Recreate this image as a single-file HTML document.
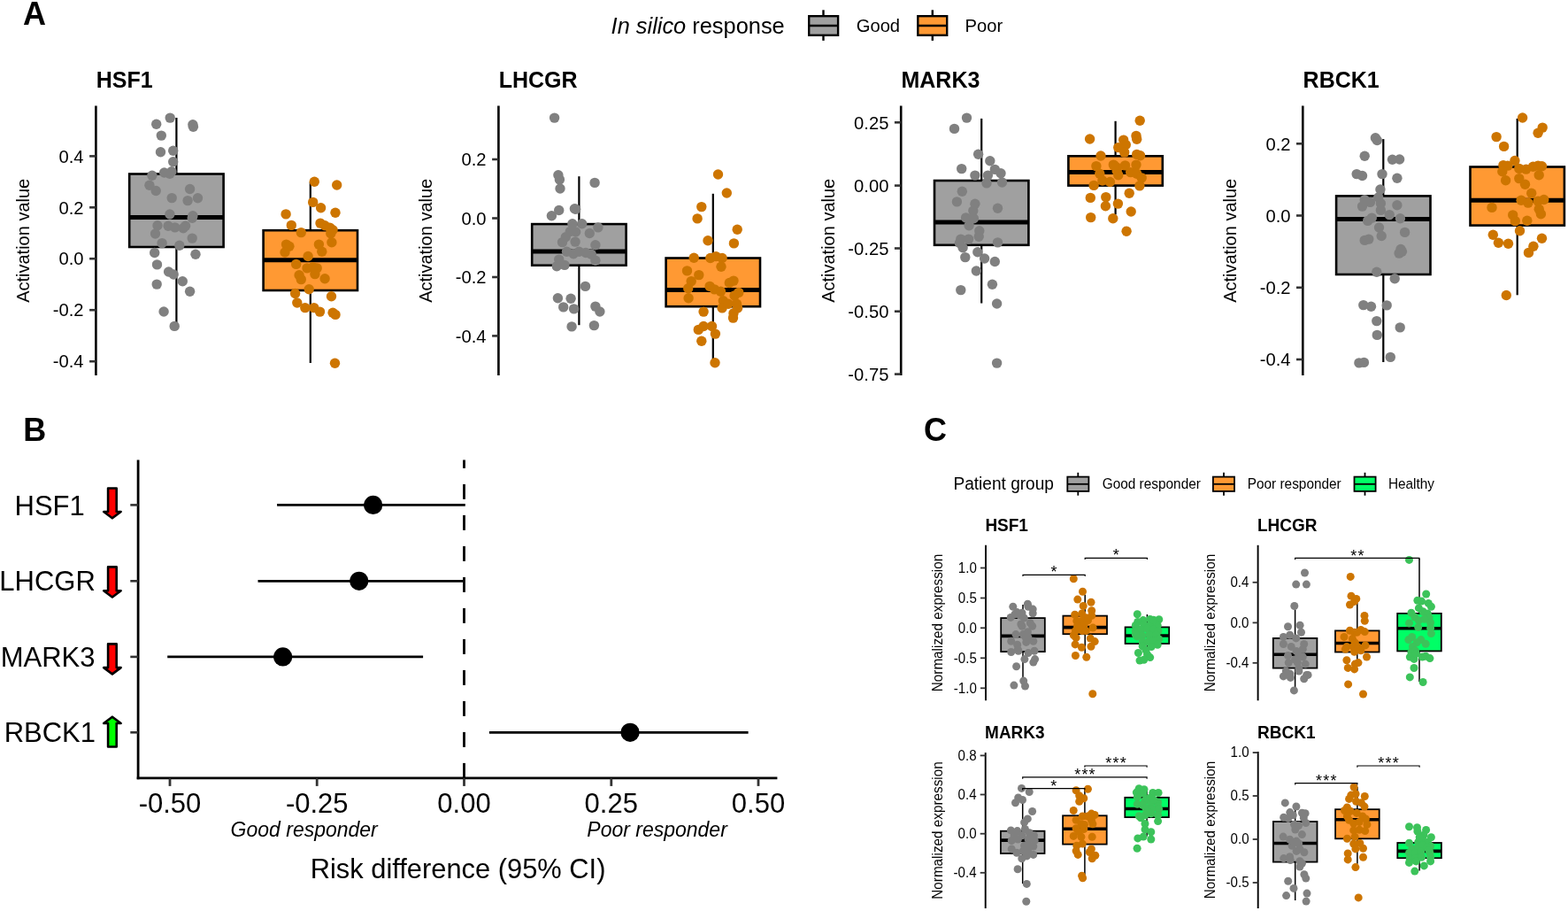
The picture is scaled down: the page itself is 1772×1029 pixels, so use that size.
<!DOCTYPE html>
<html><head><meta charset="utf-8"><title>Figure</title>
<style>html,body{margin:0;padding:0;background:#fff;} svg{display:block;} text{font-family:'Liberation Sans', Arial, Helvetica, sans-serif;}</style>
</head><body>
<svg width="1772" height="1029" viewBox="0 0 1772 1029">
<rect width="1772" height="1029" fill="#fff"/>
<text transform="translate(25.90,28.40) scale(1,1.041)" font-size="36" text-anchor="start" font-weight="bold" font-style="normal" fill="#000" >A</text>
<text transform="translate(690.6,37.9) scale(1,1.041)" font-size="25.4"><tspan font-style="italic">In silico</tspan> response</text>
<line x1="930.5" y1="11.3" x2="930.5" y2="45.9" stroke="#000" stroke-width="2.4" />
<rect x="914.2" y="18.2" width="32.89999999999998" height="21.599999999999998" fill="#A0A0A0" stroke="#000" stroke-width="2.4"/>
<line x1="914.2" y1="29.0" x2="947.1" y2="29.0" stroke="#000" stroke-width="2.6" />
<line x1="1053.8" y1="11.3" x2="1053.8" y2="45.9" stroke="#000" stroke-width="2.4" />
<rect x="1037.3" y="18.2" width="32.90000000000009" height="21.599999999999998" fill="#FF9933" stroke="#000" stroke-width="2.4"/>
<line x1="1037.3" y1="29.0" x2="1070.2" y2="29.0" stroke="#000" stroke-width="2.6" />
<text transform="translate(967.70,35.75) scale(1,1.041)" font-size="20.2" text-anchor="start" font-weight="normal" font-style="normal" fill="#000" >Good</text>
<text transform="translate(1090.50,35.75) scale(1,1.041)" font-size="20.2" text-anchor="start" font-weight="normal" font-style="normal" fill="#000" >Poor</text>
<text transform="translate(108.70,98.80) scale(1,1.041)" font-size="25" text-anchor="start" font-weight="bold" font-style="normal" fill="#000" >HSF1</text>
<line x1="108.4" y1="119.5" x2="108.4" y2="424.0" stroke="#000" stroke-width="2.6" />
<line x1="101.1" y1="176.4" x2="108.4" y2="176.4" stroke="#333" stroke-width="2.6" />
<text transform="translate(94.60,183.60) scale(1,1.041)" font-size="20.2" text-anchor="end" font-weight="normal" font-style="normal" fill="#000" >0.4</text>
<line x1="101.1" y1="234.3" x2="108.4" y2="234.3" stroke="#333" stroke-width="2.6" />
<text transform="translate(94.60,241.50) scale(1,1.041)" font-size="20.2" text-anchor="end" font-weight="normal" font-style="normal" fill="#000" >0.2</text>
<line x1="101.1" y1="292.2" x2="108.4" y2="292.2" stroke="#333" stroke-width="2.6" />
<text transform="translate(94.60,299.40) scale(1,1.041)" font-size="20.2" text-anchor="end" font-weight="normal" font-style="normal" fill="#000" >0.0</text>
<line x1="101.1" y1="350.2" x2="108.4" y2="350.2" stroke="#333" stroke-width="2.6" />
<text transform="translate(94.60,357.40) scale(1,1.041)" font-size="20.2" text-anchor="end" font-weight="normal" font-style="normal" fill="#000" >-0.2</text>
<line x1="101.1" y1="408.2" x2="108.4" y2="408.2" stroke="#333" stroke-width="2.6" />
<text transform="translate(94.60,415.40) scale(1,1.041)" font-size="20.2" text-anchor="end" font-weight="normal" font-style="normal" fill="#000" >-0.4</text>
<text transform="translate(33.2,271.8) rotate(-90) scale(1,1.041)" font-size="20" text-anchor="middle">Activation value</text>
<line x1="199.4" y1="133.0" x2="199.4" y2="196.5" stroke="#000" stroke-width="2.2" />
<line x1="199.4" y1="279.0" x2="199.4" y2="364.3" stroke="#000" stroke-width="2.2" />
<rect x="146.2" y="196.5" width="106.4" height="82.5" fill="#A0A0A0" stroke="#000" stroke-width="2.6"/>
<line x1="146.2" y1="245.4" x2="252.6" y2="245.4" stroke="#000" stroke-width="5.0" stroke-linecap="butt"/>
<line x1="350.8" y1="205.7" x2="350.8" y2="260.2" stroke="#000" stroke-width="2.2" />
<line x1="350.8" y1="328.0" x2="350.8" y2="410.0" stroke="#000" stroke-width="2.2" />
<rect x="297.6" y="260.2" width="106.4" height="67.8" fill="#FF9933" stroke="#000" stroke-width="2.6"/>
<line x1="297.6" y1="293.8" x2="404.0" y2="293.8" stroke="#000" stroke-width="5.0" stroke-linecap="butt"/>
<g fill="#808080"><circle cx="192.2" cy="133.1" r="5.7"/><circle cx="176.7" cy="140.2" r="5.7"/><circle cx="217.9" cy="140.7" r="5.7"/><circle cx="218.4" cy="143.2" r="5.7"/><circle cx="182.3" cy="153.1" r="5.7"/><circle cx="181.5" cy="171.8" r="5.7"/><circle cx="195.7" cy="170.3" r="5.7"/><circle cx="195.7" cy="182.7" r="5.7"/><circle cx="171.9" cy="198.3" r="5.7"/><circle cx="185.6" cy="195.0" r="5.7"/><circle cx="191.9" cy="196.3" r="5.7"/><circle cx="193.9" cy="193.8" r="5.7"/><circle cx="168.9" cy="209.2" r="5.7"/><circle cx="176.2" cy="215.5" r="5.7"/><circle cx="214.6" cy="213.5" r="5.7"/><circle cx="194.2" cy="223.6" r="5.7"/><circle cx="212.1" cy="226.6" r="5.7"/><circle cx="223.5" cy="223.8" r="5.7"/><circle cx="191.9" cy="242.0" r="5.7"/><circle cx="217.9" cy="243.8" r="5.7"/><circle cx="217.2" cy="246.3" r="5.7"/><circle cx="178.0" cy="254.7" r="5.7"/><circle cx="190.1" cy="255.2" r="5.7"/><circle cx="197.7" cy="256.9" r="5.7"/><circle cx="207.1" cy="257.7" r="5.7"/><circle cx="209.6" cy="255.2" r="5.7"/><circle cx="175.5" cy="264.0" r="5.7"/><circle cx="183.1" cy="274.6" r="5.7"/><circle cx="202.8" cy="277.2" r="5.7"/><circle cx="217.2" cy="269.1" r="5.7"/><circle cx="174.7" cy="285.5" r="5.7"/><circle cx="221.0" cy="287.3" r="5.7"/><circle cx="177.5" cy="298.9" r="5.7"/><circle cx="190.6" cy="307.0" r="5.7"/><circle cx="196.2" cy="310.0" r="5.7"/><circle cx="206.3" cy="317.8" r="5.7"/><circle cx="177.2" cy="321.1" r="5.7"/><circle cx="214.6" cy="329.2" r="5.7"/><circle cx="185.1" cy="352.0" r="5.7"/><circle cx="197.2" cy="368.4" r="5.7"/></g>
<g fill="#CD7500"><circle cx="355.3" cy="205.2" r="5.7"/><circle cx="380.7" cy="209.0" r="5.7"/><circle cx="353.7" cy="228.4" r="5.7"/><circle cx="362.6" cy="234.7" r="5.7"/><circle cx="323.1" cy="241.9" r="5.7"/><circle cx="379.0" cy="240.3" r="5.7"/><circle cx="329.3" cy="254.4" r="5.7"/><circle cx="362.0" cy="252.1" r="5.7"/><circle cx="367.1" cy="254.8" r="5.7"/><circle cx="372.7" cy="257.1" r="5.7"/><circle cx="376.1" cy="259.7" r="5.7"/><circle cx="373.8" cy="263.8" r="5.7"/><circle cx="340.3" cy="262.6" r="5.7"/><circle cx="374.9" cy="273.8" r="5.7"/><circle cx="323.5" cy="276.1" r="5.7"/><circle cx="326.9" cy="278.3" r="5.7"/><circle cx="322.0" cy="285.0" r="5.7"/><circle cx="360.4" cy="276.1" r="5.7"/><circle cx="363.8" cy="284.3" r="5.7"/><circle cx="348.1" cy="289.5" r="5.7"/><circle cx="334.7" cy="298.4" r="5.7"/><circle cx="347.0" cy="302.9" r="5.7"/><circle cx="353.7" cy="301.8" r="5.7"/><circle cx="358.2" cy="302.9" r="5.7"/><circle cx="355.9" cy="309.6" r="5.7"/><circle cx="338.1" cy="310.7" r="5.7"/><circle cx="340.3" cy="315.6" r="5.7"/><circle cx="367.1" cy="314.7" r="5.7"/><circle cx="349.2" cy="326.8" r="5.7"/><circle cx="333.6" cy="331.5" r="5.7"/><circle cx="374.5" cy="334.8" r="5.7"/><circle cx="335.8" cy="342.0" r="5.7"/><circle cx="344.8" cy="347.6" r="5.7"/><circle cx="354.8" cy="347.6" r="5.7"/><circle cx="361.5" cy="352.1" r="5.7"/><circle cx="376.1" cy="353.2" r="5.7"/><circle cx="379.0" cy="355.4" r="5.7"/><circle cx="378.5" cy="410.2" r="5.7"/></g>
<text transform="translate(563.70,98.80) scale(1,1.041)" font-size="25" text-anchor="start" font-weight="bold" font-style="normal" fill="#000" >LHCGR</text>
<line x1="563.4" y1="119.5" x2="563.4" y2="424.0" stroke="#000" stroke-width="2.6" />
<line x1="556.1" y1="180.0" x2="563.4" y2="180.0" stroke="#333" stroke-width="2.6" />
<text transform="translate(549.60,187.20) scale(1,1.041)" font-size="20.2" text-anchor="end" font-weight="normal" font-style="normal" fill="#000" >0.2</text>
<line x1="556.1" y1="246.5" x2="563.4" y2="246.5" stroke="#333" stroke-width="2.6" />
<text transform="translate(549.60,253.70) scale(1,1.041)" font-size="20.2" text-anchor="end" font-weight="normal" font-style="normal" fill="#000" >0.0</text>
<line x1="556.1" y1="313.0" x2="563.4" y2="313.0" stroke="#333" stroke-width="2.6" />
<text transform="translate(549.60,320.20) scale(1,1.041)" font-size="20.2" text-anchor="end" font-weight="normal" font-style="normal" fill="#000" >-0.2</text>
<line x1="556.1" y1="379.4" x2="563.4" y2="379.4" stroke="#333" stroke-width="2.6" />
<text transform="translate(549.60,386.60) scale(1,1.041)" font-size="20.2" text-anchor="end" font-weight="normal" font-style="normal" fill="#000" >-0.4</text>
<text transform="translate(488.2,271.8) rotate(-90) scale(1,1.041)" font-size="20" text-anchor="middle">Activation value</text>
<line x1="654.4" y1="199.2" x2="654.4" y2="253.1" stroke="#000" stroke-width="2.2" />
<line x1="654.4" y1="299.7" x2="654.4" y2="367.2" stroke="#000" stroke-width="2.2" />
<rect x="601.2" y="253.1" width="106.4" height="46.6" fill="#A0A0A0" stroke="#000" stroke-width="2.6"/>
<line x1="601.2" y1="284.1" x2="707.6" y2="284.1" stroke="#000" stroke-width="5.0" stroke-linecap="butt"/>
<line x1="805.8" y1="218.8" x2="805.8" y2="291.5" stroke="#000" stroke-width="2.2" />
<line x1="805.8" y1="346.2" x2="805.8" y2="410.8" stroke="#000" stroke-width="2.2" />
<rect x="752.6" y="291.5" width="106.4" height="54.7" fill="#FF9933" stroke="#000" stroke-width="2.6"/>
<line x1="752.6" y1="327.4" x2="859.0" y2="327.4" stroke="#000" stroke-width="5.0" stroke-linecap="butt"/>
<g fill="#808080"><circle cx="626.6" cy="133.1" r="5.7"/><circle cx="630.9" cy="197.8" r="5.7"/><circle cx="632.4" cy="202.9" r="5.7"/><circle cx="633.0" cy="213.0" r="5.7"/><circle cx="672.1" cy="206.4" r="5.7"/><circle cx="631.7" cy="237.5" r="5.7"/><circle cx="623.4" cy="243.8" r="5.7"/><circle cx="649.4" cy="235.7" r="5.7"/><circle cx="650.6" cy="236.2" r="5.7"/><circle cx="646.9" cy="252.7" r="5.7"/><circle cx="657.7" cy="252.7" r="5.7"/><circle cx="675.9" cy="256.9" r="5.7"/><circle cx="666.3" cy="263.5" r="5.7"/><circle cx="644.3" cy="261.5" r="5.7"/><circle cx="650.6" cy="262.0" r="5.7"/><circle cx="639.3" cy="267.8" r="5.7"/><circle cx="635.5" cy="273.6" r="5.7"/><circle cx="650.1" cy="273.1" r="5.7"/><circle cx="672.9" cy="276.7" r="5.7"/><circle cx="640.5" cy="284.2" r="5.7"/><circle cx="648.1" cy="286.8" r="5.7"/><circle cx="654.4" cy="284.2" r="5.7"/><circle cx="662.0" cy="285.5" r="5.7"/><circle cx="668.3" cy="287.3" r="5.7"/><circle cx="672.9" cy="294.3" r="5.7"/><circle cx="631.7" cy="293.1" r="5.7"/><circle cx="629.2" cy="300.7" r="5.7"/><circle cx="638.0" cy="299.4" r="5.7"/><circle cx="661.5" cy="323.4" r="5.7"/><circle cx="630.4" cy="336.8" r="5.7"/><circle cx="645.1" cy="337.3" r="5.7"/><circle cx="636.7" cy="346.9" r="5.7"/><circle cx="648.6" cy="348.9" r="5.7"/><circle cx="672.9" cy="346.1" r="5.7"/><circle cx="677.9" cy="352.0" r="5.7"/><circle cx="646.1" cy="368.9" r="5.7"/><circle cx="671.4" cy="367.6" r="5.7"/></g>
<g fill="#CD7500"><circle cx="811.5" cy="197.0" r="5.7"/><circle cx="821.3" cy="218.0" r="5.7"/><circle cx="792.8" cy="233.6" r="5.7"/><circle cx="788.1" cy="246.9" r="5.7"/><circle cx="833.2" cy="259.3" r="5.7"/><circle cx="800.0" cy="271.7" r="5.7"/><circle cx="829.4" cy="274.9" r="5.7"/><circle cx="784.2" cy="291.3" r="5.7"/><circle cx="802.8" cy="291.5" r="5.7"/><circle cx="809.1" cy="289.6" r="5.7"/><circle cx="816.1" cy="291.5" r="5.7"/><circle cx="815.0" cy="301.3" r="5.7"/><circle cx="776.5" cy="305.9" r="5.7"/><circle cx="789.8" cy="310.6" r="5.7"/><circle cx="781.2" cy="317.6" r="5.7"/><circle cx="777.7" cy="325.8" r="5.7"/><circle cx="778.1" cy="336.7" r="5.7"/><circle cx="802.1" cy="323.4" r="5.7"/><circle cx="807.5" cy="326.9" r="5.7"/><circle cx="814.5" cy="329.3" r="5.7"/><circle cx="824.3" cy="319.5" r="5.7"/><circle cx="829.0" cy="317.1" r="5.7"/><circle cx="834.8" cy="330.4" r="5.7"/><circle cx="830.1" cy="333.9" r="5.7"/><circle cx="817.3" cy="339.8" r="5.7"/><circle cx="816.1" cy="347.9" r="5.7"/><circle cx="823.1" cy="343.3" r="5.7"/><circle cx="832.5" cy="343.3" r="5.7"/><circle cx="833.6" cy="347.9" r="5.7"/><circle cx="829.0" cy="353.8" r="5.7"/><circle cx="828.5" cy="359.1" r="5.7"/><circle cx="795.1" cy="352.1" r="5.7"/><circle cx="789.3" cy="372.4" r="5.7"/><circle cx="795.1" cy="368.5" r="5.7"/><circle cx="804.5" cy="368.5" r="5.7"/><circle cx="808.4" cy="377.1" r="5.7"/><circle cx="792.8" cy="385.2" r="5.7"/><circle cx="808.0" cy="409.7" r="5.7"/></g>
<text transform="translate(1018.50,98.80) scale(1,1.041)" font-size="25" text-anchor="start" font-weight="bold" font-style="normal" fill="#000" >MARK3</text>
<line x1="1018.2" y1="119.5" x2="1018.2" y2="424.0" stroke="#000" stroke-width="2.6" />
<line x1="1010.9" y1="138.3" x2="1018.2" y2="138.3" stroke="#333" stroke-width="2.6" />
<text transform="translate(1004.40,145.50) scale(1,1.041)" font-size="20.2" text-anchor="end" font-weight="normal" font-style="normal" fill="#000" >0.25</text>
<line x1="1010.9" y1="209.6" x2="1018.2" y2="209.6" stroke="#333" stroke-width="2.6" />
<text transform="translate(1004.40,216.80) scale(1,1.041)" font-size="20.2" text-anchor="end" font-weight="normal" font-style="normal" fill="#000" >0.00</text>
<line x1="1010.9" y1="280.5" x2="1018.2" y2="280.5" stroke="#333" stroke-width="2.6" />
<text transform="translate(1004.40,287.70) scale(1,1.041)" font-size="20.2" text-anchor="end" font-weight="normal" font-style="normal" fill="#000" >-0.25</text>
<line x1="1010.9" y1="351.7" x2="1018.2" y2="351.7" stroke="#333" stroke-width="2.6" />
<text transform="translate(1004.40,358.90) scale(1,1.041)" font-size="20.2" text-anchor="end" font-weight="normal" font-style="normal" fill="#000" >-0.50</text>
<line x1="1010.9" y1="422.6" x2="1018.2" y2="422.6" stroke="#333" stroke-width="2.6" />
<text transform="translate(1004.40,429.80) scale(1,1.041)" font-size="20.2" text-anchor="end" font-weight="normal" font-style="normal" fill="#000" >-0.75</text>
<text transform="translate(943.0,271.8) rotate(-90) scale(1,1.041)" font-size="20" text-anchor="middle">Activation value</text>
<line x1="1109.2" y1="133.9" x2="1109.2" y2="204.0" stroke="#000" stroke-width="2.2" />
<line x1="1109.2" y1="276.8" x2="1109.2" y2="342.5" stroke="#000" stroke-width="2.2" />
<rect x="1056.0" y="204.0" width="106.4" height="72.8" fill="#A0A0A0" stroke="#000" stroke-width="2.6"/>
<line x1="1056.0" y1="250.9" x2="1162.4" y2="250.9" stroke="#000" stroke-width="5.0" stroke-linecap="butt"/>
<line x1="1260.6" y1="136.8" x2="1260.6" y2="176.3" stroke="#000" stroke-width="2.2" />
<line x1="1260.6" y1="209.6" x2="1260.6" y2="242.4" stroke="#000" stroke-width="2.2" />
<rect x="1207.4" y="176.3" width="106.4" height="33.3" fill="#FF9933" stroke="#000" stroke-width="2.6"/>
<line x1="1207.4" y1="194.4" x2="1313.8" y2="194.4" stroke="#000" stroke-width="5.0" stroke-linecap="butt"/>
<g fill="#808080"><circle cx="1092.5" cy="133.1" r="5.7"/><circle cx="1078.5" cy="145.4" r="5.7"/><circle cx="1105.6" cy="174.2" r="5.7"/><circle cx="1118.8" cy="181.8" r="5.7"/><circle cx="1086.7" cy="190.6" r="5.7"/><circle cx="1101.9" cy="198.1" r="5.7"/><circle cx="1116.4" cy="198.1" r="5.7"/><circle cx="1124.3" cy="191.4" r="5.7"/><circle cx="1131.0" cy="195.8" r="5.7"/><circle cx="1115.0" cy="206.9" r="5.7"/><circle cx="1132.5" cy="206.0" r="5.7"/><circle cx="1087.3" cy="216.2" r="5.7"/><circle cx="1081.4" cy="227.9" r="5.7"/><circle cx="1101.9" cy="230.2" r="5.7"/><circle cx="1127.5" cy="235.2" r="5.7"/><circle cx="1099.8" cy="238.1" r="5.7"/><circle cx="1091.6" cy="245.9" r="5.7"/><circle cx="1100.4" cy="246.8" r="5.7"/><circle cx="1095.1" cy="254.7" r="5.7"/><circle cx="1106.8" cy="260.8" r="5.7"/><circle cx="1106.2" cy="267.2" r="5.7"/><circle cx="1085.8" cy="270.1" r="5.7"/><circle cx="1094.6" cy="270.1" r="5.7"/><circle cx="1084.4" cy="274.5" r="5.7"/><circle cx="1088.1" cy="279.8" r="5.7"/><circle cx="1127.5" cy="273.9" r="5.7"/><circle cx="1090.8" cy="290.6" r="5.7"/><circle cx="1104.8" cy="284.7" r="5.7"/><circle cx="1112.6" cy="292.0" r="5.7"/><circle cx="1124.3" cy="295.5" r="5.7"/><circle cx="1103.3" cy="306.0" r="5.7"/><circle cx="1121.4" cy="321.2" r="5.7"/><circle cx="1085.8" cy="327.6" r="5.7"/><circle cx="1126.6" cy="343.0" r="5.7"/><circle cx="1126.6" cy="410.1" r="5.7"/></g>
<g fill="#CD7500"><circle cx="1288.2" cy="136.3" r="5.7"/><circle cx="1231.6" cy="157.0" r="5.7"/><circle cx="1284.0" cy="153.4" r="5.7"/><circle cx="1284.7" cy="157.3" r="5.7"/><circle cx="1269.7" cy="158.1" r="5.7"/><circle cx="1272.3" cy="163.5" r="5.7"/><circle cx="1263.8" cy="166.6" r="5.7"/><circle cx="1270.7" cy="172.1" r="5.7"/><circle cx="1244.0" cy="176.0" r="5.7"/><circle cx="1284.7" cy="174.4" r="5.7"/><circle cx="1288.6" cy="175.7" r="5.7"/><circle cx="1238.9" cy="187.6" r="5.7"/><circle cx="1258.3" cy="186.1" r="5.7"/><circle cx="1271.5" cy="186.9" r="5.7"/><circle cx="1284.0" cy="186.1" r="5.7"/><circle cx="1242.8" cy="196.2" r="5.7"/><circle cx="1262.2" cy="193.1" r="5.7"/><circle cx="1263.8" cy="197.7" r="5.7"/><circle cx="1277.7" cy="194.6" r="5.7"/><circle cx="1284.7" cy="196.2" r="5.7"/><circle cx="1290.2" cy="200.9" r="5.7"/><circle cx="1245.9" cy="204.0" r="5.7"/><circle cx="1254.4" cy="205.5" r="5.7"/><circle cx="1236.1" cy="209.4" r="5.7"/><circle cx="1287.9" cy="209.9" r="5.7"/><circle cx="1276.2" cy="218.3" r="5.7"/><circle cx="1232.3" cy="223.4" r="5.7"/><circle cx="1249.8" cy="222.6" r="5.7"/><circle cx="1249.4" cy="232.7" r="5.7"/><circle cx="1263.4" cy="230.1" r="5.7"/><circle cx="1278.2" cy="239.0" r="5.7"/><circle cx="1232.7" cy="245.6" r="5.7"/><circle cx="1257.8" cy="246.7" r="5.7"/><circle cx="1273.1" cy="261.2" r="5.7"/><circle cx="1262.2" cy="189.2" r="5.7"/><circle cx="1259.1" cy="186.9" r="5.7"/></g>
<text transform="translate(1472.60,98.80) scale(1,1.041)" font-size="25" text-anchor="start" font-weight="bold" font-style="normal" fill="#000" >RBCK1</text>
<line x1="1472.3" y1="119.5" x2="1472.3" y2="424.0" stroke="#000" stroke-width="2.6" />
<line x1="1465.0" y1="162.3" x2="1472.3" y2="162.3" stroke="#333" stroke-width="2.6" />
<text transform="translate(1458.50,169.50) scale(1,1.041)" font-size="20.2" text-anchor="end" font-weight="normal" font-style="normal" fill="#000" >0.2</text>
<line x1="1465.0" y1="243.5" x2="1472.3" y2="243.5" stroke="#333" stroke-width="2.6" />
<text transform="translate(1458.50,250.70) scale(1,1.041)" font-size="20.2" text-anchor="end" font-weight="normal" font-style="normal" fill="#000" >0.0</text>
<line x1="1465.0" y1="324.8" x2="1472.3" y2="324.8" stroke="#333" stroke-width="2.6" />
<text transform="translate(1458.50,332.00) scale(1,1.041)" font-size="20.2" text-anchor="end" font-weight="normal" font-style="normal" fill="#000" >-0.2</text>
<line x1="1465.0" y1="406.0" x2="1472.3" y2="406.0" stroke="#333" stroke-width="2.6" />
<text transform="translate(1458.50,413.20) scale(1,1.041)" font-size="20.2" text-anchor="end" font-weight="normal" font-style="normal" fill="#000" >-0.4</text>
<text transform="translate(1397.1,271.8) rotate(-90) scale(1,1.041)" font-size="20" text-anchor="middle">Activation value</text>
<line x1="1563.3" y1="157.1" x2="1563.3" y2="221.4" stroke="#000" stroke-width="2.2" />
<line x1="1563.3" y1="310.0" x2="1563.3" y2="409.0" stroke="#000" stroke-width="2.2" />
<rect x="1510.1" y="221.4" width="106.4" height="88.6" fill="#A0A0A0" stroke="#000" stroke-width="2.6"/>
<line x1="1510.1" y1="247.6" x2="1616.5" y2="247.6" stroke="#000" stroke-width="5.0" stroke-linecap="butt"/>
<line x1="1714.7" y1="133.9" x2="1714.7" y2="188.5" stroke="#000" stroke-width="2.2" />
<line x1="1714.7" y1="254.6" x2="1714.7" y2="333.3" stroke="#000" stroke-width="2.2" />
<rect x="1661.5" y="188.5" width="106.4" height="66.1" fill="#FF9933" stroke="#000" stroke-width="2.6"/>
<line x1="1661.5" y1="226.2" x2="1767.9" y2="226.2" stroke="#000" stroke-width="5.0" stroke-linecap="butt"/>
<g fill="#808080"><circle cx="1554.4" cy="155.8" r="5.7"/><circle cx="1556.3" cy="158.5" r="5.7"/><circle cx="1542.2" cy="176.2" r="5.7"/><circle cx="1573.5" cy="180.3" r="5.7"/><circle cx="1581.6" cy="180.0" r="5.7"/><circle cx="1533.2" cy="196.6" r="5.7"/><circle cx="1539.5" cy="198.5" r="5.7"/><circle cx="1562.0" cy="196.6" r="5.7"/><circle cx="1578.9" cy="201.2" r="5.7"/><circle cx="1559.9" cy="214.0" r="5.7"/><circle cx="1542.2" cy="225.7" r="5.7"/><circle cx="1548.4" cy="228.4" r="5.7"/><circle cx="1557.7" cy="223.0" r="5.7"/><circle cx="1560.4" cy="229.8" r="5.7"/><circle cx="1539.5" cy="233.1" r="5.7"/><circle cx="1578.9" cy="231.7" r="5.7"/><circle cx="1560.4" cy="237.4" r="5.7"/><circle cx="1570.2" cy="242.6" r="5.7"/><circle cx="1550.3" cy="246.1" r="5.7"/><circle cx="1545.7" cy="249.4" r="5.7"/><circle cx="1582.4" cy="246.7" r="5.7"/><circle cx="1558.5" cy="257.0" r="5.7"/><circle cx="1561.2" cy="266.5" r="5.7"/><circle cx="1587.6" cy="262.4" r="5.7"/><circle cx="1542.2" cy="271.4" r="5.7"/><circle cx="1546.8" cy="270.1" r="5.7"/><circle cx="1583.0" cy="281.5" r="5.7"/><circle cx="1584.4" cy="284.2" r="5.7"/><circle cx="1581.1" cy="286.1" r="5.7"/><circle cx="1555.8" cy="307.3" r="5.7"/><circle cx="1576.2" cy="314.7" r="5.7"/><circle cx="1540.8" cy="344.6" r="5.7"/><circle cx="1549.5" cy="346.3" r="5.7"/><circle cx="1567.2" cy="344.9" r="5.7"/><circle cx="1555.8" cy="362.6" r="5.7"/><circle cx="1582.2" cy="369.9" r="5.7"/><circle cx="1556.3" cy="378.4" r="5.7"/><circle cx="1571.3" cy="403.4" r="5.7"/><circle cx="1535.9" cy="409.9" r="5.7"/><circle cx="1541.4" cy="409.4" r="5.7"/></g>
<g fill="#CD7500"><circle cx="1720.6" cy="133.0" r="5.7"/><circle cx="1743.2" cy="144.1" r="5.7"/><circle cx="1738.1" cy="150.2" r="5.7"/><circle cx="1691.1" cy="154.6" r="5.7"/><circle cx="1699.6" cy="165.4" r="5.7"/><circle cx="1711.9" cy="181.5" r="5.7"/><circle cx="1698.9" cy="186.6" r="5.7"/><circle cx="1703.9" cy="187.1" r="5.7"/><circle cx="1697.8" cy="193.8" r="5.7"/><circle cx="1716.8" cy="190.4" r="5.7"/><circle cx="1724.6" cy="191.1" r="5.7"/><circle cx="1732.5" cy="188.2" r="5.7"/><circle cx="1738.1" cy="187.1" r="5.7"/><circle cx="1742.5" cy="187.7" r="5.7"/><circle cx="1739.2" cy="197.8" r="5.7"/><circle cx="1701.6" cy="203.8" r="5.7"/><circle cx="1716.8" cy="201.6" r="5.7"/><circle cx="1723.5" cy="208.3" r="5.7"/><circle cx="1730.7" cy="218.3" r="5.7"/><circle cx="1719.1" cy="226.2" r="5.7"/><circle cx="1726.9" cy="229.1" r="5.7"/><circle cx="1738.1" cy="227.3" r="5.7"/><circle cx="1744.8" cy="225.5" r="5.7"/><circle cx="1739.2" cy="236.2" r="5.7"/><circle cx="1741.4" cy="241.8" r="5.7"/><circle cx="1686.0" cy="234.4" r="5.7"/><circle cx="1709.7" cy="242.9" r="5.7"/><circle cx="1712.3" cy="249.6" r="5.7"/><circle cx="1725.8" cy="249.2" r="5.7"/><circle cx="1717.5" cy="260.8" r="5.7"/><circle cx="1687.3" cy="265.3" r="5.7"/><circle cx="1693.4" cy="274.2" r="5.7"/><circle cx="1704.5" cy="275.3" r="5.7"/><circle cx="1742.5" cy="269.3" r="5.7"/><circle cx="1732.9" cy="278.3" r="5.7"/><circle cx="1727.5" cy="285.4" r="5.7"/><circle cx="1702.3" cy="333.5" r="5.7"/></g>
<text transform="translate(26.30,497.80) scale(1,1.041)" font-size="36" text-anchor="start" font-weight="bold" font-style="normal" fill="#000" >B</text>
<line x1="156.1" y1="519.5" x2="156.1" y2="880.3" stroke="#000" stroke-width="2.8" />
<line x1="154.7" y1="878.9" x2="878.4" y2="878.9" stroke="#000" stroke-width="2.8" />
<line x1="524.5" y1="861.9" x2="524.5" y2="878.9" stroke="#000" stroke-width="2.8" />
<line x1="524.5" y1="826.9" x2="524.5" y2="843.9" stroke="#000" stroke-width="2.8" />
<line x1="524.5" y1="791.9" x2="524.5" y2="808.9" stroke="#000" stroke-width="2.8" />
<line x1="524.5" y1="756.9" x2="524.5" y2="773.9" stroke="#000" stroke-width="2.8" />
<line x1="524.5" y1="721.9" x2="524.5" y2="738.9" stroke="#000" stroke-width="2.8" />
<line x1="524.5" y1="686.9" x2="524.5" y2="703.9" stroke="#000" stroke-width="2.8" />
<line x1="524.5" y1="651.9" x2="524.5" y2="668.9" stroke="#000" stroke-width="2.8" />
<line x1="524.5" y1="616.9" x2="524.5" y2="633.9" stroke="#000" stroke-width="2.8" />
<line x1="524.5" y1="581.9" x2="524.5" y2="598.9" stroke="#000" stroke-width="2.8" />
<line x1="524.5" y1="546.9" x2="524.5" y2="563.9" stroke="#000" stroke-width="2.8" />
<line x1="524.5" y1="519.5" x2="524.5" y2="528.9" stroke="#000" stroke-width="2.8" />
<line x1="147.3" y1="570.4" x2="156.1" y2="570.4" stroke="#333" stroke-width="2.6" />
<text transform="translate(16.50,581.60) scale(1,1.041)" font-size="31" text-anchor="start" font-weight="normal" font-style="normal" fill="#000" >HSF1</text>
<line x1="313.1" y1="570.4" x2="525.8" y2="570.4" stroke="#000" stroke-width="2.8" />
<circle cx="421.7" cy="570.4" r="10.6" fill="#000"/>
<path d="M122.1 551.5 L131.7 551.5 L131.7 578.0 L136.6 578.0 L126.9 585.3 L117.2 578.0 L122.1 578.0 Z" fill="#FF0000" stroke="#000" stroke-width="2.6" stroke-linejoin="round"/>
<line x1="147.3" y1="656.3" x2="156.1" y2="656.3" stroke="#333" stroke-width="2.6" />
<text transform="translate(-0.70,667.20) scale(1,1.041)" font-size="31" text-anchor="start" font-weight="normal" font-style="normal" fill="#000" >LHCGR</text>
<line x1="291.5" y1="656.3" x2="523.6" y2="656.3" stroke="#000" stroke-width="2.8" />
<circle cx="405.8" cy="656.3" r="10.6" fill="#000"/>
<path d="M122.1 640.4 L131.7 640.4 L131.7 667.2 L136.6 667.2 L126.9 674.5 L117.2 667.2 L122.1 667.2 Z" fill="#FF0000" stroke="#000" stroke-width="2.6" stroke-linejoin="round"/>
<line x1="147.3" y1="741.9" x2="156.1" y2="741.9" stroke="#333" stroke-width="2.6" />
<text transform="translate(0.70,752.80) scale(1,1.041)" font-size="31" text-anchor="start" font-weight="normal" font-style="normal" fill="#000" >MARK3</text>
<line x1="189.2" y1="741.9" x2="478.1" y2="741.9" stroke="#000" stroke-width="2.8" />
<circle cx="319.7" cy="741.9" r="10.6" fill="#000"/>
<path d="M122.1 727.4 L131.7 727.4 L131.7 754.1 L136.6 754.1 L126.9 761.4 L117.2 754.1 L122.1 754.1 Z" fill="#FF0000" stroke="#000" stroke-width="2.6" stroke-linejoin="round"/>
<line x1="147.3" y1="827.3" x2="156.1" y2="827.3" stroke="#333" stroke-width="2.6" />
<text transform="translate(4.70,838.40) scale(1,1.041)" font-size="31" text-anchor="start" font-weight="normal" font-style="normal" fill="#000" >RBCK1</text>
<line x1="552.9" y1="827.3" x2="845.6" y2="827.3" stroke="#000" stroke-width="2.8" />
<circle cx="712.1" cy="827.3" r="10.6" fill="#000"/>
<path d="M122.1 843.5 L131.7 843.5 L131.7 817.0 L136.6 817.0 L126.9 809.7 L117.2 817.0 L122.1 817.0 Z" fill="#00FF00" stroke="#000" stroke-width="2.6" stroke-linejoin="round"/>
<line x1="192.0" y1="878.9" x2="192.0" y2="887.9" stroke="#333" stroke-width="2.8" />
<text transform="translate(192.00,917.50) scale(1,1.041)" font-size="31" text-anchor="middle" font-weight="normal" font-style="normal" fill="#000" >-0.50</text>
<line x1="358.2" y1="878.9" x2="358.2" y2="887.9" stroke="#333" stroke-width="2.8" />
<text transform="translate(358.25,917.50) scale(1,1.041)" font-size="31" text-anchor="middle" font-weight="normal" font-style="normal" fill="#000" >-0.25</text>
<line x1="524.5" y1="878.9" x2="524.5" y2="887.9" stroke="#333" stroke-width="2.8" />
<text transform="translate(524.50,917.50) scale(1,1.041)" font-size="31" text-anchor="middle" font-weight="normal" font-style="normal" fill="#000" >0.00</text>
<line x1="690.8" y1="878.9" x2="690.8" y2="887.9" stroke="#333" stroke-width="2.8" />
<text transform="translate(690.75,917.50) scale(1,1.041)" font-size="31" text-anchor="middle" font-weight="normal" font-style="normal" fill="#000" >0.25</text>
<line x1="857.0" y1="878.9" x2="857.0" y2="887.9" stroke="#333" stroke-width="2.8" />
<text transform="translate(857.00,917.50) scale(1,1.041)" font-size="31" text-anchor="middle" font-weight="normal" font-style="normal" fill="#000" >0.50</text>
<text transform="translate(260.60,944.60) scale(1,1.041)" font-size="23" text-anchor="start" font-weight="normal" font-style="italic" fill="#000" >Good responder</text>
<text transform="translate(663.30,944.60) scale(1,1.041)" font-size="23" text-anchor="start" font-weight="normal" font-style="italic" fill="#000" >Poor responder</text>
<text transform="translate(350.70,991.70) scale(1,1.041)" font-size="30.86" text-anchor="start" font-weight="normal" font-style="normal" fill="#000" >Risk difference (95% CI)</text>
<text transform="translate(1044.00,498.00) scale(1,1.041)" font-size="36" text-anchor="start" font-weight="bold" font-style="normal" fill="#000" >C</text>
<text transform="translate(1077.40,553.40) scale(1,1.041)" font-size="19.1" text-anchor="start" font-weight="normal" font-style="normal" fill="#000" >Patient group</text>
<text transform="translate(1245.70,552.10) scale(1,1.041)" font-size="15.4" text-anchor="start" font-weight="normal" font-style="normal" fill="#000" >Good responder</text>
<text transform="translate(1409.70,552.10) scale(1,1.041)" font-size="15.4" text-anchor="start" font-weight="normal" font-style="normal" fill="#000" >Poor responder</text>
<text transform="translate(1568.90,552.10) scale(1,1.041)" font-size="15.4" text-anchor="start" font-weight="normal" font-style="normal" fill="#000" >Healthy</text>
<line x1="1218.3" y1="533.8" x2="1218.3" y2="559.7" stroke="#000" stroke-width="1.8" />
<rect x="1206.3" y="538.6" width="24.1" height="16.3" fill="#A0A0A0" stroke="#000" stroke-width="1.8"/>
<line x1="1206.3" y1="546.8" x2="1230.4" y2="546.8" stroke="#000" stroke-width="1.8" />
<line x1="1383.0" y1="533.8" x2="1383.0" y2="559.7" stroke="#000" stroke-width="1.8" />
<rect x="1370.9" y="538.6" width="24.1" height="16.3" fill="#FF9933" stroke="#000" stroke-width="1.8"/>
<line x1="1370.9" y1="546.8" x2="1395.0" y2="546.8" stroke="#000" stroke-width="1.8" />
<line x1="1542.5" y1="533.8" x2="1542.5" y2="559.7" stroke="#000" stroke-width="1.8" />
<rect x="1530.5" y="538.6" width="24.1" height="16.3" fill="#00FF66" stroke="#000" stroke-width="1.8"/>
<line x1="1530.5" y1="546.8" x2="1554.6" y2="546.8" stroke="#000" stroke-width="1.8" />
<text transform="translate(1113.40,600.30) scale(1,1.041)" font-size="19" text-anchor="start" font-weight="bold" font-style="normal" fill="#000" >HSF1</text>
<line x1="1114.0" y1="615.8" x2="1114.0" y2="791.3" stroke="#000" stroke-width="1.9" />
<line x1="1108.0" y1="641.5" x2="1114.0" y2="641.5" stroke="#333" stroke-width="1.8" />
<text transform="translate(1103.85,646.80) scale(1,1.041)" font-size="15.1" text-anchor="end" font-weight="normal" font-style="normal" fill="#000" >1.0</text>
<line x1="1108.0" y1="675.5" x2="1114.0" y2="675.5" stroke="#333" stroke-width="1.8" />
<text transform="translate(1103.85,680.80) scale(1,1.041)" font-size="15.1" text-anchor="end" font-weight="normal" font-style="normal" fill="#000" >0.5</text>
<line x1="1108.0" y1="709.3" x2="1114.0" y2="709.3" stroke="#333" stroke-width="1.8" />
<text transform="translate(1103.85,714.60) scale(1,1.041)" font-size="15.1" text-anchor="end" font-weight="normal" font-style="normal" fill="#000" >0.0</text>
<line x1="1108.0" y1="743.3" x2="1114.0" y2="743.3" stroke="#333" stroke-width="1.8" />
<text transform="translate(1103.85,748.60) scale(1,1.041)" font-size="15.1" text-anchor="end" font-weight="normal" font-style="normal" fill="#000" >-0.5</text>
<line x1="1108.0" y1="777.3" x2="1114.0" y2="777.3" stroke="#333" stroke-width="1.8" />
<text transform="translate(1103.85,782.60) scale(1,1.041)" font-size="15.1" text-anchor="end" font-weight="normal" font-style="normal" fill="#000" >-1.0</text>
<text transform="translate(1065.0,703.5) rotate(-90) scale(1,1.041)" font-size="15.3" text-anchor="middle">Normalized expression</text>
<line x1="1156.0" y1="682.9" x2="1156.0" y2="698.1" stroke="#000" stroke-width="1.5" />
<line x1="1156.0" y1="736.1" x2="1156.0" y2="775.2" stroke="#000" stroke-width="1.5" />
<rect x="1131.2" y="698.1" width="49.6" height="38.0" fill="#A0A0A0" stroke="#000" stroke-width="1.8"/>
<line x1="1131.2" y1="718.4" x2="1180.8" y2="718.4" stroke="#000" stroke-width="3.6" stroke-linecap="butt"/>
<line x1="1226.2" y1="671.7" x2="1226.2" y2="695.6" stroke="#000" stroke-width="1.5" />
<line x1="1226.2" y1="716.2" x2="1226.2" y2="739.9" stroke="#000" stroke-width="1.5" />
<rect x="1201.4" y="695.6" width="49.6" height="20.6" fill="#FF9933" stroke="#000" stroke-width="1.8"/>
<line x1="1201.4" y1="708.6" x2="1251.0" y2="708.6" stroke="#000" stroke-width="3.6" stroke-linecap="butt"/>
<line x1="1296.4" y1="694.0" x2="1296.4" y2="708.4" stroke="#000" stroke-width="1.5" />
<line x1="1296.4" y1="727.0" x2="1296.4" y2="740.0" stroke="#000" stroke-width="1.5" />
<rect x="1271.6" y="708.4" width="49.6" height="18.6" fill="#00FF66" stroke="#000" stroke-width="1.8"/>
<line x1="1271.6" y1="718.0" x2="1321.2" y2="718.0" stroke="#000" stroke-width="3.6" stroke-linecap="butt"/>
<g fill="#808080"><circle cx="1144.8" cy="685.2" r="4.5"/><circle cx="1161.4" cy="682.2" r="4.5"/><circle cx="1162.0" cy="685.2" r="4.5"/><circle cx="1167.2" cy="688.1" r="4.5"/><circle cx="1167.2" cy="692.7" r="4.5"/><circle cx="1149.2" cy="691.6" r="4.5"/><circle cx="1155.0" cy="692.2" r="4.5"/><circle cx="1142.2" cy="697.4" r="4.5"/><circle cx="1157.3" cy="698.0" r="4.5"/><circle cx="1153.8" cy="705.0" r="4.5"/><circle cx="1155.0" cy="707.3" r="4.5"/><circle cx="1164.3" cy="703.8" r="4.5"/><circle cx="1166.6" cy="707.3" r="4.5"/><circle cx="1148.0" cy="716.6" r="4.5"/><circle cx="1161.4" cy="713.7" r="4.5"/><circle cx="1158.5" cy="719.0" r="4.5"/><circle cx="1162.0" cy="720.1" r="4.5"/><circle cx="1142.7" cy="724.2" r="4.5"/><circle cx="1149.7" cy="728.3" r="4.5"/><circle cx="1159.7" cy="725.4" r="4.5"/><circle cx="1167.8" cy="724.2" r="4.5"/><circle cx="1150.3" cy="733.6" r="4.5"/><circle cx="1142.7" cy="736.5" r="4.5"/><circle cx="1150.9" cy="735.3" r="4.5"/><circle cx="1162.0" cy="737.6" r="4.5"/><circle cx="1169.0" cy="735.3" r="4.5"/><circle cx="1157.9" cy="744.6" r="4.5"/><circle cx="1167.8" cy="748.1" r="4.5"/><circle cx="1169.6" cy="744.6" r="4.5"/><circle cx="1148.6" cy="752.8" r="4.5"/><circle cx="1156.7" cy="769.1" r="4.5"/><circle cx="1158.5" cy="775.0" r="4.5"/><circle cx="1145.9" cy="774.1" r="4.5"/><circle cx="1160.8" cy="717.8" r="4.5"/><circle cx="1156.2" cy="716.6" r="4.5"/><circle cx="1146.8" cy="693.9" r="4.5"/><circle cx="1152.7" cy="695.1" r="4.5"/></g>
<g fill="#CD7500"><circle cx="1213.3" cy="653.7" r="4.5"/><circle cx="1223.5" cy="668.3" r="4.5"/><circle cx="1217.8" cy="677.1" r="4.5"/><circle cx="1233.0" cy="680.2" r="4.5"/><circle cx="1224.2" cy="684.5" r="4.5"/><circle cx="1233.7" cy="689.8" r="4.5"/><circle cx="1214.7" cy="694.3" r="4.5"/><circle cx="1222.7" cy="692.9" r="4.5"/><circle cx="1227.3" cy="697.8" r="4.5"/><circle cx="1233.7" cy="695.4" r="4.5"/><circle cx="1216.8" cy="701.4" r="4.5"/><circle cx="1222.4" cy="701.4" r="4.5"/><circle cx="1229.5" cy="700.7" r="4.5"/><circle cx="1217.5" cy="707.0" r="4.5"/><circle cx="1223.8" cy="707.0" r="4.5"/><circle cx="1235.1" cy="709.1" r="4.5"/><circle cx="1215.4" cy="712.6" r="4.5"/><circle cx="1223.1" cy="712.6" r="4.5"/><circle cx="1227.3" cy="712.6" r="4.5"/><circle cx="1213.3" cy="717.6" r="4.5"/><circle cx="1216.1" cy="720.4" r="4.5"/><circle cx="1232.3" cy="721.1" r="4.5"/><circle cx="1237.2" cy="724.6" r="4.5"/><circle cx="1215.1" cy="727.9" r="4.5"/><circle cx="1222.4" cy="731.2" r="4.5"/><circle cx="1233.0" cy="730.3" r="4.5"/><circle cx="1215.4" cy="740.5" r="4.5"/><circle cx="1227.8" cy="742.2" r="4.5"/><circle cx="1234.8" cy="783.8" r="4.5"/><circle cx="1225.2" cy="705.6" r="4.5"/><circle cx="1219.6" cy="709.8" r="4.5"/></g>
<g fill="#3CC35A"><circle cx="1285.3" cy="693.8" r="4.5"/><circle cx="1309.8" cy="699.8" r="4.5"/><circle cx="1299.7" cy="699.4" r="4.5"/><circle cx="1291.9" cy="700.6" r="4.5"/><circle cx="1285.7" cy="702.5" r="4.5"/><circle cx="1283.3" cy="706.4" r="4.5"/><circle cx="1292.7" cy="705.7" r="4.5"/><circle cx="1300.4" cy="704.9" r="4.5"/><circle cx="1308.2" cy="706.4" r="4.5"/><circle cx="1283.3" cy="712.7" r="4.5"/><circle cx="1289.5" cy="711.1" r="4.5"/><circle cx="1296.5" cy="710.3" r="4.5"/><circle cx="1303.5" cy="711.1" r="4.5"/><circle cx="1309.0" cy="712.7" r="4.5"/><circle cx="1284.9" cy="718.9" r="4.5"/><circle cx="1291.1" cy="718.1" r="4.5"/><circle cx="1298.9" cy="717.3" r="4.5"/><circle cx="1306.6" cy="717.3" r="4.5"/><circle cx="1309.8" cy="722.0" r="4.5"/><circle cx="1291.1" cy="725.1" r="4.5"/><circle cx="1297.3" cy="725.1" r="4.5"/><circle cx="1303.5" cy="723.5" r="4.5"/><circle cx="1308.2" cy="728.2" r="4.5"/><circle cx="1291.1" cy="729.8" r="4.5"/><circle cx="1301.2" cy="730.5" r="4.5"/><circle cx="1295.0" cy="734.4" r="4.5"/><circle cx="1286.4" cy="737.5" r="4.5"/><circle cx="1296.5" cy="739.1" r="4.5"/><circle cx="1299.7" cy="742.6" r="4.5"/><circle cx="1288.0" cy="746.1" r="4.5"/><circle cx="1292.7" cy="745.3" r="4.5"/><circle cx="1283.3" cy="716.5" r="4.5"/><circle cx="1303.5" cy="700.2" r="4.5"/></g>
<path d="M1156.0 651.1 L1156.0 649.3 L1226.2 649.3 L1226.2 651.1" fill="none" stroke="#000" stroke-width="1.15"/>
<text transform="translate(1191.70,652.40)" font-size="18" text-anchor="middle" letter-spacing="1.2">*</text>
<path d="M1226.2 632.1 L1226.2 630.3 L1296.4 630.3 L1296.4 632.1" fill="none" stroke="#000" stroke-width="1.15"/>
<text transform="translate(1261.90,633.40)" font-size="18" text-anchor="middle" letter-spacing="1.2">*</text>
<text transform="translate(1421.00,600.30) scale(1,1.041)" font-size="19" text-anchor="start" font-weight="bold" font-style="normal" fill="#000" >LHCGR</text>
<line x1="1421.6" y1="615.8" x2="1421.6" y2="791.3" stroke="#000" stroke-width="1.9" />
<line x1="1415.6" y1="657.8" x2="1421.6" y2="657.8" stroke="#333" stroke-width="1.8" />
<text transform="translate(1411.45,663.10) scale(1,1.041)" font-size="15.1" text-anchor="end" font-weight="normal" font-style="normal" fill="#000" >0.4</text>
<line x1="1415.6" y1="703.4" x2="1421.6" y2="703.4" stroke="#333" stroke-width="1.8" />
<text transform="translate(1411.45,708.70) scale(1,1.041)" font-size="15.1" text-anchor="end" font-weight="normal" font-style="normal" fill="#000" >0.0</text>
<line x1="1415.6" y1="748.8" x2="1421.6" y2="748.8" stroke="#333" stroke-width="1.8" />
<text transform="translate(1411.45,754.10) scale(1,1.041)" font-size="15.1" text-anchor="end" font-weight="normal" font-style="normal" fill="#000" >-0.4</text>
<text transform="translate(1372.6,703.5) rotate(-90) scale(1,1.041)" font-size="15.3" text-anchor="middle">Normalized expression</text>
<line x1="1463.6" y1="688.5" x2="1463.6" y2="720.9" stroke="#000" stroke-width="1.5" />
<line x1="1463.6" y1="754.6" x2="1463.6" y2="779.0" stroke="#000" stroke-width="1.5" />
<rect x="1438.8" y="720.9" width="49.6" height="33.7" fill="#A0A0A0" stroke="#000" stroke-width="1.8"/>
<line x1="1438.8" y1="739.2" x2="1488.4" y2="739.2" stroke="#000" stroke-width="3.6" stroke-linecap="butt"/>
<line x1="1533.8" y1="680.6" x2="1533.8" y2="712.4" stroke="#000" stroke-width="1.5" />
<line x1="1533.8" y1="736.5" x2="1533.8" y2="746.6" stroke="#000" stroke-width="1.5" />
<rect x="1509.0" y="712.4" width="49.6" height="24.1" fill="#FF9933" stroke="#000" stroke-width="1.8"/>
<line x1="1509.0" y1="726.5" x2="1558.6" y2="726.5" stroke="#000" stroke-width="3.6" stroke-linecap="butt"/>
<line x1="1604.0" y1="631.0" x2="1604.0" y2="692.9" stroke="#000" stroke-width="1.5" />
<line x1="1604.0" y1="735.4" x2="1604.0" y2="770.0" stroke="#000" stroke-width="1.5" />
<rect x="1579.2" y="692.9" width="49.6" height="42.5" fill="#00FF66" stroke="#000" stroke-width="1.8"/>
<line x1="1579.2" y1="709.7" x2="1628.8" y2="709.7" stroke="#000" stroke-width="3.6" stroke-linecap="butt"/>
<g fill="#808080"><circle cx="1474.5" cy="647.0" r="4.5"/><circle cx="1464.7" cy="660.1" r="4.5"/><circle cx="1476.4" cy="660.1" r="4.5"/><circle cx="1462.8" cy="684.5" r="4.5"/><circle cx="1455.5" cy="707.8" r="4.5"/><circle cx="1469.1" cy="706.3" r="4.5"/><circle cx="1470.5" cy="714.3" r="4.5"/><circle cx="1450.4" cy="719.4" r="4.5"/><circle cx="1457.7" cy="717.3" r="4.5"/><circle cx="1464.7" cy="720.9" r="4.5"/><circle cx="1450.4" cy="727.5" r="4.5"/><circle cx="1459.2" cy="730.4" r="4.5"/><circle cx="1473.7" cy="727.5" r="4.5"/><circle cx="1472.3" cy="733.3" r="4.5"/><circle cx="1465.0" cy="735.5" r="4.5"/><circle cx="1467.9" cy="740.6" r="4.5"/><circle cx="1455.5" cy="740.6" r="4.5"/><circle cx="1472.3" cy="742.0" r="4.5"/><circle cx="1456.2" cy="748.6" r="4.5"/><circle cx="1466.4" cy="748.6" r="4.5"/><circle cx="1475.2" cy="750.1" r="4.5"/><circle cx="1467.9" cy="755.2" r="4.5"/><circle cx="1467.9" cy="758.1" r="4.5"/><circle cx="1453.3" cy="758.1" r="4.5"/><circle cx="1457.7" cy="761.0" r="4.5"/><circle cx="1450.4" cy="763.9" r="4.5"/><circle cx="1458.4" cy="765.4" r="4.5"/><circle cx="1476.6" cy="762.4" r="4.5"/><circle cx="1473.7" cy="766.8" r="4.5"/><circle cx="1478.1" cy="762.4" r="4.5"/><circle cx="1462.4" cy="779.9" r="4.5"/><circle cx="1463.5" cy="745.0" r="4.5"/></g>
<g fill="#CD7500"><circle cx="1526.2" cy="651.4" r="4.5"/><circle cx="1527.0" cy="673.2" r="4.5"/><circle cx="1532.8" cy="676.4" r="4.5"/><circle cx="1525.5" cy="683.0" r="4.5"/><circle cx="1530.6" cy="679.4" r="4.5"/><circle cx="1542.0" cy="695.4" r="4.5"/><circle cx="1542.3" cy="701.2" r="4.5"/><circle cx="1525.5" cy="712.2" r="4.5"/><circle cx="1530.6" cy="714.3" r="4.5"/><circle cx="1537.9" cy="711.4" r="4.5"/><circle cx="1542.3" cy="713.6" r="4.5"/><circle cx="1519.0" cy="719.4" r="4.5"/><circle cx="1528.4" cy="721.6" r="4.5"/><circle cx="1531.3" cy="726.0" r="4.5"/><circle cx="1521.9" cy="730.4" r="4.5"/><circle cx="1520.4" cy="733.3" r="4.5"/><circle cx="1529.2" cy="730.4" r="4.5"/><circle cx="1535.0" cy="731.1" r="4.5"/><circle cx="1543.0" cy="728.9" r="4.5"/><circle cx="1530.6" cy="736.2" r="4.5"/><circle cx="1537.9" cy="734.8" r="4.5"/><circle cx="1544.5" cy="742.0" r="4.5"/><circle cx="1521.9" cy="745.7" r="4.5"/><circle cx="1535.0" cy="748.6" r="4.5"/><circle cx="1531.3" cy="750.1" r="4.5"/><circle cx="1523.3" cy="754.4" r="4.5"/><circle cx="1530.6" cy="755.9" r="4.5"/><circle cx="1523.6" cy="772.9" r="4.5"/><circle cx="1540.5" cy="784.0" r="4.5"/><circle cx="1533.5" cy="714.3" r="4.5"/></g>
<g fill="#3CC35A"><circle cx="1592.5" cy="632.4" r="4.5"/><circle cx="1611.7" cy="671.0" r="4.5"/><circle cx="1601.9" cy="678.3" r="4.5"/><circle cx="1606.5" cy="679.1" r="4.5"/><circle cx="1614.3" cy="681.4" r="4.5"/><circle cx="1617.4" cy="685.3" r="4.5"/><circle cx="1603.4" cy="686.9" r="4.5"/><circle cx="1608.1" cy="690.7" r="4.5"/><circle cx="1594.9" cy="692.3" r="4.5"/><circle cx="1613.5" cy="693.1" r="4.5"/><circle cx="1598.8" cy="697.0" r="4.5"/><circle cx="1615.1" cy="697.7" r="4.5"/><circle cx="1592.5" cy="704.0" r="4.5"/><circle cx="1603.4" cy="700.9" r="4.5"/><circle cx="1609.7" cy="699.3" r="4.5"/><circle cx="1616.6" cy="703.2" r="4.5"/><circle cx="1602.7" cy="708.6" r="4.5"/><circle cx="1616.6" cy="709.4" r="4.5"/><circle cx="1617.4" cy="715.6" r="4.5"/><circle cx="1591.8" cy="722.6" r="4.5"/><circle cx="1595.7" cy="719.5" r="4.5"/><circle cx="1605.8" cy="722.6" r="4.5"/><circle cx="1601.1" cy="725.7" r="4.5"/><circle cx="1611.2" cy="727.3" r="4.5"/><circle cx="1596.4" cy="730.4" r="4.5"/><circle cx="1594.9" cy="736.6" r="4.5"/><circle cx="1599.5" cy="735.1" r="4.5"/><circle cx="1593.3" cy="742.1" r="4.5"/><circle cx="1598.0" cy="744.4" r="4.5"/><circle cx="1607.3" cy="742.1" r="4.5"/><circle cx="1611.2" cy="741.3" r="4.5"/><circle cx="1615.9" cy="743.6" r="4.5"/><circle cx="1598.0" cy="754.5" r="4.5"/><circle cx="1593.3" cy="764.9" r="4.5"/><circle cx="1608.1" cy="770.5" r="4.5"/><circle cx="1600.3" cy="738.2" r="4.5"/></g>
<path d="M1463.6 632.2 L1463.6 630.4 L1604.0 630.4 L1604.0 632.2" fill="none" stroke="#000" stroke-width="1.15"/>
<text transform="translate(1534.40,633.50)" font-size="18" text-anchor="middle" letter-spacing="1.2">**</text>
<text transform="translate(1113.10,833.80) scale(1,1.041)" font-size="19" text-anchor="start" font-weight="bold" font-style="normal" fill="#000" >MARK3</text>
<line x1="1113.7" y1="850.1" x2="1113.7" y2="1026.0" stroke="#000" stroke-width="1.9" />
<line x1="1107.7" y1="853.4" x2="1113.7" y2="853.4" stroke="#333" stroke-width="1.8" />
<text transform="translate(1103.55,858.70) scale(1,1.041)" font-size="15.1" text-anchor="end" font-weight="normal" font-style="normal" fill="#000" >0.8</text>
<line x1="1107.7" y1="897.5" x2="1113.7" y2="897.5" stroke="#333" stroke-width="1.8" />
<text transform="translate(1103.55,902.80) scale(1,1.041)" font-size="15.1" text-anchor="end" font-weight="normal" font-style="normal" fill="#000" >0.4</text>
<line x1="1107.7" y1="941.7" x2="1113.7" y2="941.7" stroke="#333" stroke-width="1.8" />
<text transform="translate(1103.55,947.00) scale(1,1.041)" font-size="15.1" text-anchor="end" font-weight="normal" font-style="normal" fill="#000" >0.0</text>
<line x1="1107.7" y1="985.8" x2="1113.7" y2="985.8" stroke="#333" stroke-width="1.8" />
<text transform="translate(1103.55,991.10) scale(1,1.041)" font-size="15.1" text-anchor="end" font-weight="normal" font-style="normal" fill="#000" >-0.4</text>
<text transform="translate(1064.7,938.0) rotate(-90) scale(1,1.041)" font-size="15.3" text-anchor="middle">Normalized expression</text>
<line x1="1155.7" y1="906.8" x2="1155.7" y2="938.7" stroke="#000" stroke-width="1.5" />
<line x1="1155.7" y1="964.0" x2="1155.7" y2="998.1" stroke="#000" stroke-width="1.5" />
<rect x="1130.9" y="938.7" width="49.6" height="25.3" fill="#A0A0A0" stroke="#000" stroke-width="1.8"/>
<line x1="1130.9" y1="949.1" x2="1180.5" y2="949.1" stroke="#000" stroke-width="3.6" stroke-linecap="butt"/>
<line x1="1225.9" y1="890.8" x2="1225.9" y2="921.3" stroke="#000" stroke-width="1.5" />
<line x1="1225.9" y1="953.6" x2="1225.9" y2="989.2" stroke="#000" stroke-width="1.5" />
<rect x="1201.1" y="921.3" width="49.6" height="32.3" fill="#FF9933" stroke="#000" stroke-width="1.8"/>
<line x1="1201.1" y1="936.2" x2="1250.7" y2="936.2" stroke="#000" stroke-width="3.6" stroke-linecap="butt"/>
<line x1="1296.1" y1="893.0" x2="1296.1" y2="900.8" stroke="#000" stroke-width="1.5" />
<line x1="1296.1" y1="923.1" x2="1296.1" y2="944.7" stroke="#000" stroke-width="1.5" />
<rect x="1271.3" y="900.8" width="49.6" height="22.3" fill="#00FF66" stroke="#000" stroke-width="1.8"/>
<line x1="1271.3" y1="913.5" x2="1320.9" y2="913.5" stroke="#000" stroke-width="3.6" stroke-linecap="butt"/>
<g fill="#808080"><circle cx="1154.5" cy="890.4" r="4.5"/><circle cx="1163.2" cy="894.5" r="4.5"/><circle cx="1150.7" cy="901.0" r="4.5"/><circle cx="1155.5" cy="903.5" r="4.5"/><circle cx="1147.5" cy="906.8" r="4.5"/><circle cx="1166.6" cy="916.5" r="4.5"/><circle cx="1161.3" cy="924.9" r="4.5"/><circle cx="1157.6" cy="928.9" r="4.5"/><circle cx="1142.4" cy="937.9" r="4.5"/><circle cx="1149.7" cy="938.6" r="4.5"/><circle cx="1158.4" cy="936.5" r="4.5"/><circle cx="1163.4" cy="940.8" r="4.5"/><circle cx="1168.5" cy="943.7" r="4.5"/><circle cx="1146.1" cy="943.7" r="4.5"/><circle cx="1154.8" cy="943.7" r="4.5"/><circle cx="1143.2" cy="949.5" r="4.5"/><circle cx="1150.4" cy="948.1" r="4.5"/><circle cx="1162.0" cy="948.1" r="4.5"/><circle cx="1169.2" cy="949.5" r="4.5"/><circle cx="1157.6" cy="955.3" r="4.5"/><circle cx="1167.8" cy="956.0" r="4.5"/><circle cx="1143.2" cy="958.9" r="4.5"/><circle cx="1149.0" cy="963.3" r="4.5"/><circle cx="1156.2" cy="961.1" r="4.5"/><circle cx="1162.0" cy="962.5" r="4.5"/><circle cx="1167.8" cy="965.4" r="4.5"/><circle cx="1154.8" cy="969.8" r="4.5"/><circle cx="1160.5" cy="966.9" r="4.5"/><circle cx="1150.1" cy="981.8" r="4.5"/><circle cx="1160.3" cy="998.4" r="4.5"/><circle cx="1159.8" cy="1018.3" r="4.5"/><circle cx="1163.4" cy="955.3" r="4.5"/></g>
<g fill="#CD7500"><circle cx="1216.1" cy="892.7" r="4.5"/><circle cx="1229.4" cy="891.3" r="4.5"/><circle cx="1219.7" cy="898.8" r="4.5"/><circle cx="1224.8" cy="901.7" r="4.5"/><circle cx="1219.7" cy="905.3" r="4.5"/><circle cx="1213.2" cy="915.5" r="4.5"/><circle cx="1233.4" cy="919.1" r="4.5"/><circle cx="1237.1" cy="920.5" r="4.5"/><circle cx="1223.3" cy="922.0" r="4.5"/><circle cx="1229.1" cy="922.0" r="4.5"/><circle cx="1216.1" cy="926.3" r="4.5"/><circle cx="1233.4" cy="926.3" r="4.5"/><circle cx="1234.9" cy="930.7" r="4.5"/><circle cx="1221.9" cy="930.7" r="4.5"/><circle cx="1225.5" cy="931.4" r="4.5"/><circle cx="1216.1" cy="935.7" r="4.5"/><circle cx="1224.8" cy="936.5" r="4.5"/><circle cx="1213.2" cy="944.4" r="4.5"/><circle cx="1221.9" cy="945.2" r="4.5"/><circle cx="1234.2" cy="945.2" r="4.5"/><circle cx="1216.8" cy="955.3" r="4.5"/><circle cx="1223.3" cy="953.1" r="4.5"/><circle cx="1216.1" cy="961.1" r="4.5"/><circle cx="1218.2" cy="965.4" r="4.5"/><circle cx="1233.4" cy="958.9" r="4.5"/><circle cx="1231.3" cy="962.5" r="4.5"/><circle cx="1237.8" cy="966.2" r="4.5"/><circle cx="1234.2" cy="969.8" r="4.5"/><circle cx="1222.6" cy="989.3" r="4.5"/><circle cx="1223.6" cy="991.8" r="4.5"/><circle cx="1219.0" cy="939.4" r="4.5"/></g>
<g fill="#3CC35A"><circle cx="1287.2" cy="890.7" r="4.5"/><circle cx="1293.0" cy="891.7" r="4.5"/><circle cx="1284.3" cy="895.1" r="4.5"/><circle cx="1292.1" cy="896.0" r="4.5"/><circle cx="1302.8" cy="895.5" r="4.5"/><circle cx="1309.1" cy="895.5" r="4.5"/><circle cx="1285.3" cy="900.4" r="4.5"/><circle cx="1298.9" cy="901.4" r="4.5"/><circle cx="1294.0" cy="904.3" r="4.5"/><circle cx="1285.3" cy="908.2" r="4.5"/><circle cx="1291.1" cy="909.2" r="4.5"/><circle cx="1300.8" cy="907.2" r="4.5"/><circle cx="1308.6" cy="906.2" r="4.5"/><circle cx="1308.6" cy="911.1" r="4.5"/><circle cx="1295.0" cy="913.0" r="4.5"/><circle cx="1301.8" cy="914.0" r="4.5"/><circle cx="1309.6" cy="914.0" r="4.5"/><circle cx="1287.2" cy="921.8" r="4.5"/><circle cx="1294.0" cy="920.8" r="4.5"/><circle cx="1300.8" cy="918.9" r="4.5"/><circle cx="1308.6" cy="920.8" r="4.5"/><circle cx="1308.6" cy="927.6" r="4.5"/><circle cx="1289.2" cy="923.7" r="4.5"/><circle cx="1294.0" cy="930.5" r="4.5"/><circle cx="1294.0" cy="936.9" r="4.5"/><circle cx="1300.8" cy="939.8" r="4.5"/><circle cx="1292.1" cy="945.1" r="4.5"/><circle cx="1285.8" cy="946.9" r="4.5"/><circle cx="1300.8" cy="948.0" r="4.5"/><circle cx="1285.1" cy="958.2" r="4.5"/><circle cx="1296.9" cy="916.9" r="4.5"/><circle cx="1303.7" cy="903.3" r="4.5"/></g>
<path d="M1155.7 892.4 L1155.7 890.6 L1225.9 890.6 L1225.9 892.4" fill="none" stroke="#000" stroke-width="1.15"/>
<text transform="translate(1191.40,893.70)" font-size="18" text-anchor="middle" letter-spacing="1.2">*</text>
<path d="M1155.7 879.7 L1155.7 877.9 L1296.1 877.9 L1296.1 879.7" fill="none" stroke="#000" stroke-width="1.15"/>
<text transform="translate(1226.50,881.00)" font-size="18" text-anchor="middle" letter-spacing="1.2">***</text>
<path d="M1225.9 866.8 L1225.9 865.0 L1296.1 865.0 L1296.1 866.8" fill="none" stroke="#000" stroke-width="1.15"/>
<text transform="translate(1261.60,868.10)" font-size="18" text-anchor="middle" letter-spacing="1.2">***</text>
<text transform="translate(1421.10,833.80) scale(1,1.041)" font-size="19" text-anchor="start" font-weight="bold" font-style="normal" fill="#000" >RBCK1</text>
<line x1="1421.7" y1="849.0" x2="1421.7" y2="1026.0" stroke="#000" stroke-width="1.9" />
<line x1="1415.7" y1="850.1" x2="1421.7" y2="850.1" stroke="#333" stroke-width="1.8" />
<text transform="translate(1411.55,855.40) scale(1,1.041)" font-size="15.1" text-anchor="end" font-weight="normal" font-style="normal" fill="#000" >1.0</text>
<line x1="1415.7" y1="899.0" x2="1421.7" y2="899.0" stroke="#333" stroke-width="1.8" />
<text transform="translate(1411.55,904.30) scale(1,1.041)" font-size="15.1" text-anchor="end" font-weight="normal" font-style="normal" fill="#000" >0.5</text>
<line x1="1415.7" y1="948.0" x2="1421.7" y2="948.0" stroke="#333" stroke-width="1.8" />
<text transform="translate(1411.55,953.30) scale(1,1.041)" font-size="15.1" text-anchor="end" font-weight="normal" font-style="normal" fill="#000" >0.0</text>
<line x1="1415.7" y1="997.0" x2="1421.7" y2="997.0" stroke="#333" stroke-width="1.8" />
<text transform="translate(1411.55,1002.30) scale(1,1.041)" font-size="15.1" text-anchor="end" font-weight="normal" font-style="normal" fill="#000" >-0.5</text>
<text transform="translate(1372.7,937.5) rotate(-90) scale(1,1.041)" font-size="15.3" text-anchor="middle">Normalized expression</text>
<line x1="1463.7" y1="913.5" x2="1463.7" y2="928.0" stroke="#000" stroke-width="1.5" />
<line x1="1463.7" y1="973.6" x2="1463.7" y2="1017.0" stroke="#000" stroke-width="1.5" />
<rect x="1438.9" y="928.0" width="49.6" height="45.6" fill="#A0A0A0" stroke="#000" stroke-width="1.8"/>
<line x1="1438.9" y1="952.5" x2="1488.5" y2="952.5" stroke="#000" stroke-width="3.6" stroke-linecap="butt"/>
<line x1="1533.9" y1="889.0" x2="1533.9" y2="914.2" stroke="#000" stroke-width="1.5" />
<line x1="1533.9" y1="947.3" x2="1533.9" y2="975.8" stroke="#000" stroke-width="1.5" />
<rect x="1509.1" y="914.2" width="49.6" height="33.1" fill="#FF9933" stroke="#000" stroke-width="1.8"/>
<line x1="1509.1" y1="925.8" x2="1558.7" y2="925.8" stroke="#000" stroke-width="3.6" stroke-linecap="butt"/>
<line x1="1604.1" y1="944.0" x2="1604.1" y2="952.0" stroke="#000" stroke-width="1.5" />
<line x1="1604.1" y1="969.2" x2="1604.1" y2="983.6" stroke="#000" stroke-width="1.5" />
<rect x="1579.3" y="952.0" width="49.6" height="17.2" fill="#00FF66" stroke="#000" stroke-width="1.8"/>
<line x1="1579.3" y1="961.4" x2="1628.9" y2="961.4" stroke="#000" stroke-width="3.6" stroke-linecap="butt"/>
<g fill="#808080"><circle cx="1452.3" cy="906.9" r="4.5"/><circle cx="1464.9" cy="911.0" r="4.5"/><circle cx="1457.8" cy="917.6" r="4.5"/><circle cx="1461.3" cy="920.7" r="4.5"/><circle cx="1450.7" cy="923.2" r="4.5"/><circle cx="1455.7" cy="924.4" r="4.5"/><circle cx="1471.4" cy="918.2" r="4.5"/><circle cx="1475.1" cy="918.8" r="4.5"/><circle cx="1473.3" cy="923.8" r="4.5"/><circle cx="1475.8" cy="929.5" r="4.5"/><circle cx="1462.6" cy="931.3" r="4.5"/><circle cx="1467.6" cy="932.6" r="4.5"/><circle cx="1463.8" cy="937.0" r="4.5"/><circle cx="1471.4" cy="942.6" r="4.5"/><circle cx="1450.1" cy="945.1" r="4.5"/><circle cx="1457.6" cy="948.3" r="4.5"/><circle cx="1465.1" cy="950.1" r="4.5"/><circle cx="1460.1" cy="955.2" r="4.5"/><circle cx="1467.6" cy="952.7" r="4.5"/><circle cx="1465.1" cy="961.4" r="4.5"/><circle cx="1473.9" cy="962.7" r="4.5"/><circle cx="1468.9" cy="958.9" r="4.5"/><circle cx="1450.7" cy="969.6" r="4.5"/><circle cx="1457.6" cy="967.7" r="4.5"/><circle cx="1458.2" cy="971.5" r="4.5"/><circle cx="1468.9" cy="972.7" r="4.5"/><circle cx="1471.4" cy="975.2" r="4.5"/><circle cx="1468.9" cy="979.0" r="4.5"/><circle cx="1473.9" cy="987.8" r="4.5"/><circle cx="1475.8" cy="992.1" r="4.5"/><circle cx="1455.7" cy="995.3" r="4.5"/><circle cx="1462.0" cy="1003.4" r="4.5"/><circle cx="1453.6" cy="1011.6" r="4.5"/><circle cx="1477.0" cy="1009.1" r="4.5"/><circle cx="1476.1" cy="1018.1" r="4.5"/></g>
<g fill="#CD7500"><circle cx="1530.1" cy="889.0" r="4.5"/><circle cx="1526.8" cy="898.1" r="4.5"/><circle cx="1532.1" cy="896.7" r="4.5"/><circle cx="1524.6" cy="902.4" r="4.5"/><circle cx="1542.3" cy="899.5" r="4.5"/><circle cx="1532.6" cy="905.3" r="4.5"/><circle cx="1538.4" cy="906.8" r="4.5"/><circle cx="1542.0" cy="911.1" r="4.5"/><circle cx="1522.4" cy="911.9" r="4.5"/><circle cx="1519.5" cy="915.5" r="4.5"/><circle cx="1526.1" cy="916.2" r="4.5"/><circle cx="1533.3" cy="918.4" r="4.5"/><circle cx="1539.8" cy="922.0" r="4.5"/><circle cx="1543.4" cy="924.9" r="4.5"/><circle cx="1522.4" cy="922.0" r="4.5"/><circle cx="1524.6" cy="926.3" r="4.5"/><circle cx="1529.7" cy="930.0" r="4.5"/><circle cx="1544.9" cy="931.4" r="4.5"/><circle cx="1536.2" cy="928.5" r="4.5"/><circle cx="1529.7" cy="937.9" r="4.5"/><circle cx="1536.2" cy="937.2" r="4.5"/><circle cx="1542.7" cy="938.6" r="4.5"/><circle cx="1531.1" cy="945.2" r="4.5"/><circle cx="1522.4" cy="947.3" r="4.5"/><circle cx="1529.7" cy="953.1" r="4.5"/><circle cx="1536.9" cy="952.4" r="4.5"/><circle cx="1540.5" cy="958.2" r="4.5"/><circle cx="1531.9" cy="958.9" r="4.5"/><circle cx="1523.2" cy="964.0" r="4.5"/><circle cx="1523.2" cy="970.9" r="4.5"/><circle cx="1540.5" cy="968.3" r="4.5"/><circle cx="1531.9" cy="979.6" r="4.5"/><circle cx="1535.2" cy="1013.9" r="4.5"/></g>
<g fill="#3CC35A"><circle cx="1592.5" cy="933.8" r="4.5"/><circle cx="1601.5" cy="934.8" r="4.5"/><circle cx="1601.9" cy="939.0" r="4.5"/><circle cx="1611.6" cy="937.5" r="4.5"/><circle cx="1608.9" cy="943.3" r="4.5"/><circle cx="1617.4" cy="945.7" r="4.5"/><circle cx="1592.5" cy="952.3" r="4.5"/><circle cx="1602.7" cy="951.1" r="4.5"/><circle cx="1607.3" cy="949.5" r="4.5"/><circle cx="1613.5" cy="951.1" r="4.5"/><circle cx="1616.6" cy="955.8" r="4.5"/><circle cx="1595.7" cy="958.9" r="4.5"/><circle cx="1602.7" cy="956.5" r="4.5"/><circle cx="1607.3" cy="955.0" r="4.5"/><circle cx="1612.8" cy="957.3" r="4.5"/><circle cx="1592.5" cy="963.5" r="4.5"/><circle cx="1599.5" cy="963.5" r="4.5"/><circle cx="1605.8" cy="962.0" r="4.5"/><circle cx="1615.9" cy="963.5" r="4.5"/><circle cx="1593.3" cy="969.8" r="4.5"/><circle cx="1599.5" cy="969.8" r="4.5"/><circle cx="1606.5" cy="968.2" r="4.5"/><circle cx="1616.6" cy="968.2" r="4.5"/><circle cx="1592.5" cy="974.4" r="4.5"/><circle cx="1600.3" cy="972.9" r="4.5"/><circle cx="1616.6" cy="972.9" r="4.5"/><circle cx="1609.3" cy="977.9" r="4.5"/><circle cx="1598.8" cy="984.1" r="4.5"/><circle cx="1604.2" cy="945.7" r="4.5"/><circle cx="1615.1" cy="960.4" r="4.5"/></g>
<path d="M1463.7 886.4 L1463.7 884.6 L1533.9 884.6 L1533.9 886.4" fill="none" stroke="#000" stroke-width="1.15"/>
<text transform="translate(1499.40,887.70)" font-size="18" text-anchor="middle" letter-spacing="1.2">***</text>
<path d="M1533.9 866.8 L1533.9 865.0 L1604.1 865.0 L1604.1 866.8" fill="none" stroke="#000" stroke-width="1.15"/>
<text transform="translate(1569.60,868.10)" font-size="18" text-anchor="middle" letter-spacing="1.2">***</text>
</svg>
</body></html>
